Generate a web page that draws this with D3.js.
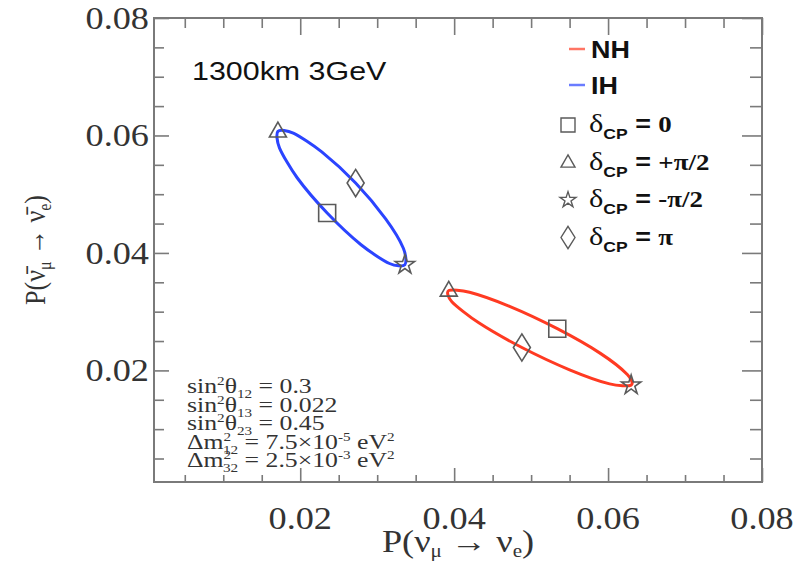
<!DOCTYPE html>
<html>
<head>
<meta charset="utf-8">
<script src="https://cdn.jsdelivr.net/npm/d3@7"></script>
<style>
  body { margin: 0; background: #fff; }
  svg { display: block; }
</style>
</head>
<body>
<div class="workspace"></div>
<script>
// axis ranges and ticks
const xDomain = [0.001, 0.08];
const yDomain = [0.001, 0.08];
const majorTicks = [0.02, 0.04, 0.06, 0.08];
const minorTicks = [0.005, 0.01, 0.015, 0.025, 0.03, 0.035, 0.045, 0.05, 0.055, 0.065, 0.07, 0.075];

// CP trajectory, delta = 0, 30, 60 ... 330 deg
const nhCurve = [
  [0.0534, 0.0271], [0.0472, 0.0309], [0.0420, 0.0333], [0.0393, 0.0336],
  [0.0397, 0.0317], [0.0432, 0.0281], [0.0488, 0.0239], [0.0550, 0.0201],
  [0.0602, 0.0177], [0.0630, 0.0175], [0.0625, 0.0193], [0.0590, 0.0229]
];
const ihCurve = [
  [0.0235, 0.0468], [0.0196, 0.0528], [0.0173, 0.0579], [0.0171, 0.0607],
  [0.0191, 0.0604], [0.0228, 0.0572], [0.0272, 0.0519], [0.0311, 0.0458],
  [0.0334, 0.0408], [0.0336, 0.0380], [0.0316, 0.0382], [0.0279, 0.0414]
];

// marker points: delta_CP = 0, +pi/2, -pi/2, pi
const markerTypes = ['square', 'triangle', 'star', 'diamond'];
const nhPoints = [[0.0534, 0.0271], [0.0393, 0.0336], [0.0630, 0.0175], [0.0488, 0.0239]];
const ihPoints = [[0.0235, 0.0468], [0.0171, 0.0607], [0.0336, 0.0380], [0.0272, 0.0519]];

const legendLines = ['NH', 'IH'];
const legendColors = ['#ff3a22', '#2b44ff'];
const legendDeltas = ['0', '+\u03c0/2', '-\u03c0/2', ' \u03c0'];

const paramLines = [
  ['sin', '2', '\u03b8', '12', ' = 0.3'],
  ['sin', '2', '\u03b8', '13', ' = 0.022'],
  ['sin', '2', '\u03b8', '23', ' = 0.45'],
  ['\u0394m', '2', '', '12', ' = 7.5\u00d710', '-5', ' eV', '2'],
  ['\u0394m', '2', '', '32', ' = 2.5\u00d710', '-3', ' eV', '2']
];

const width = 803;
const height = 564;
const margin = { left: 154, right: 41, top: 18, bottom: 82 };
const axisColor = '#7a7a7a';
const markColor = '#5a5a5a';
const serif = '"Liberation Serif", "DejaVu Serif", serif';
const sans = '"Liberation Sans", Arial, sans-serif';
// the picture is a little wider than tall, so text is stretched sideways
const stretch = 1.17;

const svg = d3
  .select('.workspace')
  .append('svg')
  .attr('width', width)
  .attr('height', height);

const x = d3.scaleLinear().domain(xDomain).range([margin.left, width - margin.right]);
const y = d3.scaleLinear().domain(yDomain).range([height - margin.bottom, margin.top]);

function placeText(sel, tx, ty) {
  return sel.attr('transform', `translate(${tx},${ty}) scale(${stretch},1)`);
}

// ticks on all four sides, pointing inwards
function drawAxis(axisFn, scale, transform, values, size) {
  svg
    .append('g')
    .attr('transform', transform)
    .call(axisFn(scale).tickValues(values).tickSize(size).tickFormat(''))
    .call((g) => g.select('.domain').remove())
    .call((g) => g.selectAll('line').attr('stroke', axisColor).attr('stroke-width', 1.6));
}
const x0 = height - margin.bottom;
const x1 = margin.top;
const y0 = margin.left;
const y1 = width - margin.right;
drawAxis(d3.axisTop, x, `translate(0,${x0})`, majorTicks, 14);
drawAxis(d3.axisTop, x, `translate(0,${x0})`, minorTicks, 7);
drawAxis(d3.axisBottom, x, `translate(0,${x1})`, majorTicks, 17);
drawAxis(d3.axisBottom, x, `translate(0,${x1})`, minorTicks, 10);
drawAxis(d3.axisRight, y, `translate(${y0},0)`, majorTicks, 15);
drawAxis(d3.axisRight, y, `translate(${y0},0)`, minorTicks, 10);
drawAxis(d3.axisLeft, y, `translate(${y1},0)`, majorTicks, 20);
drawAxis(d3.axisLeft, y, `translate(${y1},0)`, minorTicks, 12);

svg
  .append('rect')
  .attr('x', x(xDomain[0]))
  .attr('y', y(yDomain[1]))
  .attr('width', x(xDomain[1]) - x(xDomain[0]))
  .attr('height', y(yDomain[0]) - y(yDomain[1]))
  .attr('fill', 'none')
  .attr('stroke', axisColor)
  .attr('stroke-width', 2);

// tick labels
svg
  .append('g')
  .selectAll('text')
  .data(majorTicks)
  .enter()
  .append('text')
  .call((s) => s.attr('transform', (d) => `translate(${x(d)},${x0 + 47}) scale(${stretch},1)`))
  .attr('text-anchor', 'middle')
  .style('font-family', serif)
  .style('font-size', '31px')
  .style('fill', '#333')
  .text((d) => d.toFixed(2));

svg
  .append('g')
  .selectAll('text')
  .data(majorTicks)
  .enter()
  .append('text')
  .call((s) => s.attr('transform', (d) => `translate(${y0 - 5},${y(d)}) scale(${stretch},1)`))
  .attr('dy', '0.35em')
  .attr('text-anchor', 'end')
  .style('font-family', serif)
  .style('font-size', '31px')
  .style('fill', '#333')
  .text((d) => d.toFixed(2));

// axis titles
const xTitle = placeText(svg.append('text'), (y0 + y1) / 2, 552)
  .attr('text-anchor', 'middle')
  .style('font-family', serif)
  .style('font-size', '31px')
  .style('fill', '#333');
xTitle.append('tspan').text('P(\u03bd');
xTitle.append('tspan').attr('dy', 5).style('font-size', '18px').text('\u03bc');
xTitle.append('tspan').attr('dy', -5).text(' \u2192 \u03bd');
xTitle.append('tspan').attr('dy', 5).style('font-size', '18px').text('e');
xTitle.append('tspan').attr('dy', -5).text(')');

const yTitle = svg
  .append('text')
  .attr('transform', `translate(45,${(x0 + x1) / 2}) rotate(-90) scale(1,${stretch})`)
  .attr('text-anchor', 'middle')
  .style('font-family', serif)
  .style('font-size', '26px')
  .style('fill', '#333');
yTitle.append('tspan').text('P(\u03bd\u0304');
yTitle.append('tspan').attr('dy', 5).style('font-size', '16px').text('\u03bc');
yTitle.append('tspan').attr('dy', -5).text(' \u2192 \u03bd\u0304');
yTitle.append('tspan').attr('dy', 5).style('font-size', '16px').text('e');
yTitle.append('tspan').attr('dy', -5).text(')');

// the two ellipses
const line = d3
  .line()
  .x((d) => x(d[0]))
  .y((d) => y(d[1]))
  .curve(d3.curveCardinalClosed.tension(0.2));

[nhCurve, ihCurve].forEach((curve, i) => {
  svg
    .append('path')
    .datum(curve)
    .attr('d', line)
    .attr('fill', 'none')
    .attr('stroke', legendColors[i])
    .attr('stroke-width', 3);
});

// marker shapes
function markerPath(type, s) {
  if (type === 'square') {
    return `M${-s / 2},${-s / 2}h${s}v${s}h${-s}Z`;
  }
  if (type === 'triangle') {
    const h = s * 0.87;
    return `M0,${-h * 0.62}L${s / 2},${h * 0.38}L${-s / 2},${h * 0.38}Z`;
  }
  if (type === 'diamond') {
    return `M0,${-s * 0.8}L${s * 0.5},0L0,${s * 0.8}L${-s * 0.5},0Z`;
  }
  return d3.symbol(d3.symbolStar, s * s * 0.4)();
}

[nhPoints, ihPoints].forEach((pts) => {
  svg
    .append('g')
    .selectAll('path')
    .data(pts)
    .enter()
    .append('path')
    .attr('transform', (d) => `translate(${x(d[0])},${y(d[1])})`)
    .attr('d', (d, i) => markerPath(markerTypes[i], 17))
    .attr('fill', 'none')
    .attr('stroke', markColor)
    .attr('stroke-width', 1.6);
});

// energy / baseline label
placeText(svg.append('text'), 192, 80)
  .style('font-family', sans)
  .style('font-size', '26px')
  .style('fill', '#111')
  .text('1300km 3GeV');

// legend
const legend = svg.append('g');
legendLines.forEach((name, i) => {
  const ly = 49 + i * 36;
  legend
    .append('line')
    .attr('x1', 569)
    .attr('x2', 585)
    .attr('y1', ly)
    .attr('y2', ly)
    .attr('stroke', legendColors[i])
    .attr('stroke-width', 2.5)
    .attr('stroke-opacity', 0.7);
  placeText(legend.append('text'), 591, ly + 9)
    .style('font-family', sans)
    .style('font-weight', 'bold')
    .style('font-size', '23px')
    .style('fill', '#111')
    .text(name);
});

legendDeltas.forEach((val, i) => {
  const ly = 125 + i * 37.5;
  legend
    .append('path')
    .attr('transform', `translate(568,${ly})`)
    .attr('d', markerPath(markerTypes[i], 14))
    .attr('fill', 'none')
    .attr('stroke', markColor)
    .attr('stroke-width', 1.4);
  const t = placeText(legend.append('text'), 589, ly + 7)
    .style('font-family', sans)
    .style('font-weight', 'bold')
    .style('font-size', '23px')
    .style('fill', '#111');
  t.append('tspan').style('font-family', serif).style('font-weight', 'normal').style('font-size', '26px').text('\u03b4');
  t.append('tspan').attr('dy', 7).style('font-size', '15px').text('CP');
  t.append('tspan').attr('dy', -7).text(' = ');
  t.append('tspan').style('font-family', serif).text(val);
});

// oscillation parameters
paramLines.forEach((parts, i) => {
  const t = placeText(svg.append('text'), 187, 393 + i * 18.5)
    .style('font-family', serif)
    .style('font-size', '22px')
    .style('fill', '#333');
  t.append('tspan').text(parts[0]);
  t.append('tspan').attr('dy', -8).style('font-size', '13px').text(parts[1]);
  if (parts[2] === '') {
    // stack sub- and superscript as the reference does
    t.append('tspan').attr('dy', 13).attr('dx', -7).style('font-size', '13px').text(parts[3]);
    t.append('tspan').attr('dy', -5).text(parts[4]);
  } else {
    t.append('tspan').attr('dy', 8).text(parts[2]);
    t.append('tspan').attr('dy', 5).style('font-size', '13px').text(parts[3]);
    t.append('tspan').attr('dy', -5).text(parts[4]);
  }
  if (parts.length > 5) {
    t.append('tspan').attr('dy', -8).style('font-size', '13px').text(parts[5]);
    t.append('tspan').attr('dy', 8).text(parts[6]);
    t.append('tspan').attr('dy', -8).style('font-size', '13px').text(parts[7]);
  }
});
</script>
</body>
</html>
